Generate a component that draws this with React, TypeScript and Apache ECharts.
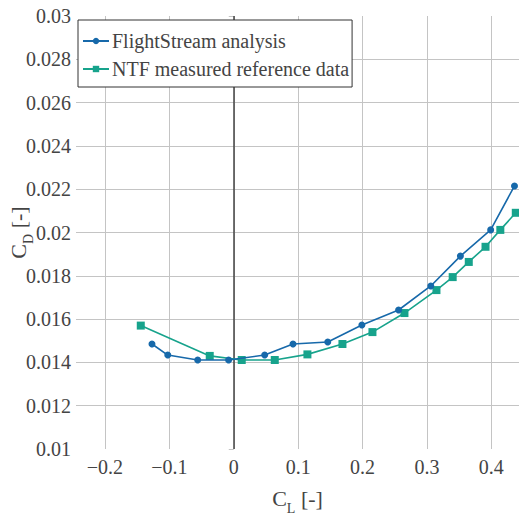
import React, { useEffect, useRef } from "react";
import * as echarts from "echarts";

const flightCL = [-0.127, -0.1025, -0.056, -0.008, 0.048, 0.092, 0.146, 0.199, 0.256, 0.306, 0.352, 0.399, 0.436];
const flightCD = [0.01485, 0.01434, 0.01411, 0.01411, 0.01434, 0.01485, 0.01494, 0.01573, 0.01642, 0.01753, 0.01891, 0.02012, 0.02215];

const ntfCL = [-0.1444, -0.0373, 0.0124, 0.0637, 0.1144, 0.1688, 0.2154, 0.2651, 0.3148, 0.340, 0.365, 0.391, 0.414, 0.438];
const ntfCD = [0.0157, 0.0143, 0.01411, 0.01411, 0.01437, 0.01485, 0.0154, 0.01628, 0.01734, 0.01794, 0.01864, 0.01934, 0.02012, 0.02091];

const seriesNames = ["FlightStream analysis", "NTF measured reference data"];

const FONT = "Liberation Serif";
const BLUE = "#1769aa";
const TEAL = "#17a38c";
const TEXT = "#444";

export default function App() {
  const ref = useRef<HTMLDivElement>(null);
  useEffect(() => {
    if (!ref.current) return;
    const chart = echarts.init(ref.current, null, { renderer: "svg" });
    const zip = (xs: number[], ys: number[]) => xs.map((x, i) => [x, ys[i]]);
    const tickRich = { t: { fontFamily: FONT, fontSize: 20, color: TEXT } };
    const nameRich = {
      c: { fontFamily: FONT, fontSize: 22, color: TEXT, lineHeight: 26, verticalAlign: "bottom" },
      s: { fontFamily: FONT, fontSize: 14, color: TEXT, lineHeight: 26, verticalAlign: "bottom", padding: [0, 0, -6, 0] },
    };
    chart.setOption({
      animation: false,
      backgroundColor: "#fff",
      textStyle: { fontFamily: FONT },
      grid: { left: 76, top: 16, right: 0, bottom: 68, containLabel: false, outerBoundsMode: "none" },
      legend: {
        orient: "vertical",
        left: 78,
        top: 20,
        backgroundColor: "#fff",
        borderColor: "#333",
        borderWidth: 1,
        borderRadius: 0,
        padding: [11, 3, 8, 4],
        itemGap: 8,
        itemWidth: 26,
        itemHeight: 8,
        textStyle: { fontFamily: FONT, fontSize: 20, color: TEXT, padding: [0, 0, 0, -2] },
        data: seriesNames,
      },
      xAxis: {
        type: "value",
        min: -0.245,
        max: 0.443,
        splitNumber: 7,
        minInterval: 0.1,
        maxInterval: 0.1,
        axisLine: { show: false },
        axisTick: { show: false },
        axisLabel: {
          showMinLabel: false,
          showMaxLabel: false,
          margin: 8,
          fontFamily: FONT,
          fontSize: 20,
          color: TEXT,
          rich: tickRich,
          formatter: (v: number) => {
            const r = Math.round(v * 10) / 10;
            const s = r === 0 ? "0" : r < 0 ? "\u2212" + String(Math.abs(r)) : String(r);
            return "{t|" + s + "}";
          },
        },
        splitLine: { show: true, showMinLine: false, showMaxLine: false, lineStyle: { color: "#c4c4c4", width: 1 } },
        name: "{c|C}{s|L}{c| [-]}",
        nameLocation: "middle",
        nameGap: 34,
        nameMoveOverlap: false,
        nameTextStyle: { rich: nameRich },
      },
      yAxis: {
        type: "value",
        min: 0.01,
        max: 0.03,
        interval: 0.002,
        axisLine: { show: false },
        axisTick: { show: true, length: 5, lineStyle: { color: "#c4c4c4" } },
        axisLabel: {
          margin: 5,
          fontFamily: FONT,
          fontSize: 20,
          color: TEXT,
          rich: tickRich,
          formatter: (v: number) => "{t|" + String(Math.round(v * 1000) / 1000) + "}",
        },
        splitLine: { show: true, showMinLine: false, showMaxLine: false, lineStyle: { color: "#c4c4c4", width: 1 } },
        name: "{c|C}{s|D}{c| [-]}",
        nameLocation: "middle",
        nameGap: 47,
        nameRotate: 90,
        nameMoveOverlap: false,
        nameTextStyle: { rich: nameRich },
      },
      series: [
        {
          name: seriesNames[0],
          type: "line",
          data: zip(flightCL, flightCD),
          symbol: "circle",
          symbolSize: 7,
          lineStyle: { color: BLUE, width: 1.6 },
          itemStyle: { color: BLUE },
          z: 3,
          markLine: {
            silent: true,
            symbol: "none",
            label: { show: false },
            lineStyle: { color: "#444", width: 1.5, type: "solid" },
            data: [{ xAxis: 0 }],
            z: 1,
          },
        },
        {
          name: seriesNames[1],
          type: "line",
          data: zip(ntfCL, ntfCD),
          symbol: "rect",
          symbolSize: 8,
          lineStyle: { color: TEAL, width: 1.6 },
          itemStyle: { color: TEAL },
          z: 2,
        },
      ],
    });
    return () => chart.dispose();
  }, []);
  return <div ref={ref} style={{ position: "fixed", left: 0, top: 0, width: 519, height: 517 }} />;
}
